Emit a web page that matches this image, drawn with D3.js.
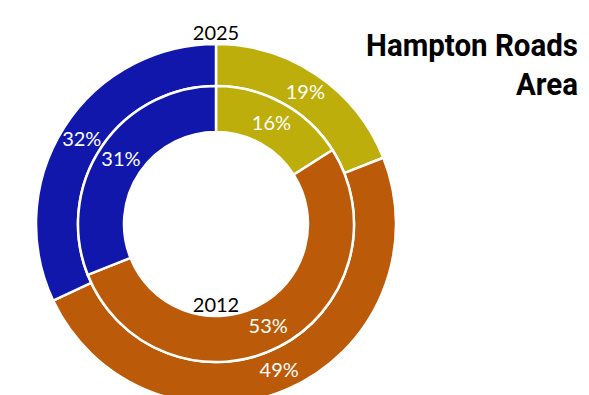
<!DOCTYPE html>
<html>
<head>
<meta charset="utf-8">
<script src="https://cdn.jsdelivr.net/npm/d3@7"></script>
<style>
  body { margin: 0; background: #fff; }
  svg { display: block; }
</style>
</head>
<body>
<div id="chart"></div>
<script>
// Data
const categories = ["Group A", "Group B", "Group C"];
const values2025 = [19, 49, 32];   // outer ring
const values2012 = [16, 53, 31];   // inner ring
const ringYears = ["2025", "2012"];
const titleLines = ["Hampton Roads", "Area"];
const colors = ["#bdae0b", "#bb5a08", "#1217ab"];

const width = 589, height = 395;
const cx = 216, cy = 224;
const labelFont = "Lato, 'Open Sans', sans-serif";

const svg = d3.select("#chart").append("svg")
  .attr("width", width)
  .attr("height", height);

const color = d3.scaleOrdinal().domain(categories).range(colors);

const pie = d3.pie().sort(null).value(d => d.value);

const rings = [
  { year: ringYears[0], values: values2025, inner: 138, outer: 180 },
  { year: ringYears[1], values: values2012, inner: 92, outer: 138 }
];

const g = svg.append("g").attr("transform", `translate(${cx},${cy})`);

rings.forEach(ring => {
  const arcs = pie(categories.map((c, i) => ({ cat: c, value: ring.values[i] })));
  const arc = d3.arc().innerRadius(ring.inner).outerRadius(ring.outer);

  g.append("g").selectAll("path")
    .data(arcs)
    .join("path")
    .attr("d", arc)
    .attr("fill", d => color(d.data.cat))
    .attr("stroke", "#fff")
    .attr("stroke-width", 2.5);

  // percent labels
  g.append("g").selectAll("text")
    .data(arcs)
    .join("text")
    .attr("transform", d => `translate(${arc.centroid(d)})`)
    .attr("text-anchor", "middle")
    .attr("dy", "0.35em")
    .attr("fill", "#fff")
    .style("font-family", labelFont)
    .style("font-size", "20px")
    .text(d => d.data.value + "%");
});

// ring year labels
svg.append("text")
  .attr("x", cx)
  .attr("y", 40)
  .attr("text-anchor", "middle")
  .style("font-family", labelFont)
  .style("font-size", "20px")
  .attr("fill", "#000")
  .text(ringYears[0]);

svg.append("text")
  .attr("x", cx)
  .attr("y", 312)
  .attr("text-anchor", "middle")
  .style("font-family", labelFont)
  .style("font-size", "20px")
  .attr("fill", "#000")
  .text(ringYears[1]);

// Title: squeeze horizontally so it looks condensed
const titleGroup = svg.append("g")
  .attr("transform", "translate(578,0)");
const titleText = titleGroup.append("text")
  .attr("text-anchor", "end")
  .style("font-family", "Roboto, sans-serif")
  .style("font-weight", "700")
  .style("font-size", "32px")
  .attr("fill", "#000");
titleText.append("tspan").attr("x", 0).attr("y", 56).text(titleLines[0]);
titleText.append("tspan").attr("x", 0).attr("y", 95).text(titleLines[1]);
const natural = titleText.select("tspan").node().getComputedTextLength();
const sx = 212 / natural;
titleGroup.attr("transform", `translate(578,0) scale(${sx},1)`);
</script>
</body>
</html>
